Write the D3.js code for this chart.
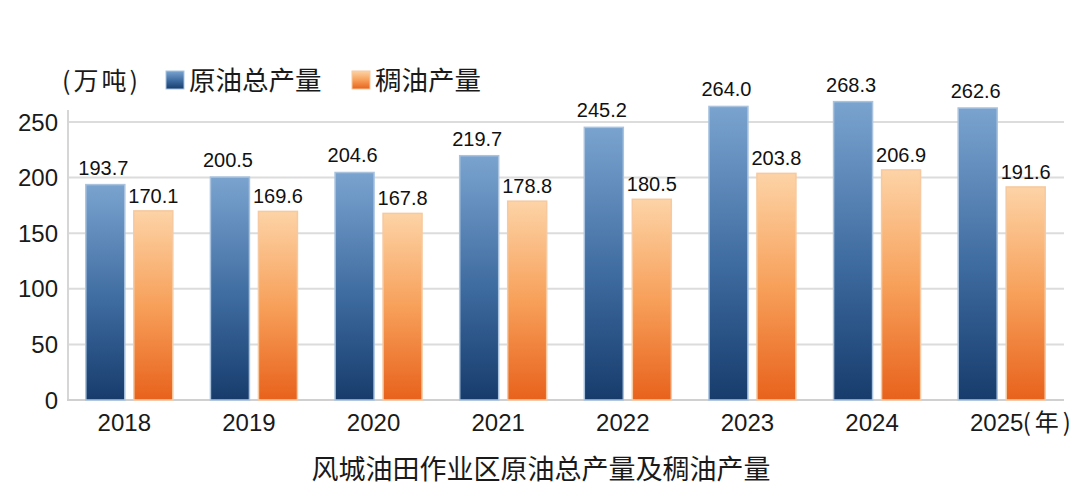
<!DOCTYPE html>
<html>
<head>
<meta charset="utf-8">
<script src="https://cdn.jsdelivr.net/npm/d3@7"></script>
<style>
  html, body { margin: 0; padding: 0; background: #fff; }
  svg { display: block; }
</style>
</head>
<body>
<div id="chart"></div>
<script>
// data
const years = ["2018", "2019", "2020", "2021", "2022", "2023", "2024", "2025"];
const totalOil = [193.7, 200.5, 204.6, 219.7, 245.2, 264.0, 268.3, 262.6];
const heavyOil = [170.1, 169.6, 167.8, 178.8, 180.5, 203.8, 206.9, 191.6];
const yTicks = [0, 50, 100, 150, 200, 250];
const seriesNames = ["原油总产量", "稠油产量"];

const W = 1080, H = 489;
const numFont = "'Liberation Sans', Arial, sans-serif";
const cjkFont = "'Noto Sans CJK SC', 'Noto Sans', sans-serif";

const svg = d3.select("#chart")
  .append("svg")
  .attr("width", W)
  .attr("height", H);

const defs = svg.append("defs");

let blueGrad = defs.append("linearGradient")
  .attr("id", "blueGrad")
  .attr("x1", 0).attr("y1", 0).attr("x2", 0).attr("y2", 1);
blueGrad.append("stop").attr("offset", "0%").attr("stop-color", "#7aa3cf");
blueGrad.append("stop").attr("offset", "55%").attr("stop-color", "#3d6a9f");
blueGrad.append("stop").attr("offset", "100%").attr("stop-color", "#173c6c");

let orangeGrad = defs.append("linearGradient")
  .attr("id", "orangeGrad")
  .attr("x1", 0).attr("y1", 0).attr("x2", 0).attr("y2", 1);
orangeGrad.append("stop").attr("offset", "0%").attr("stop-color", "#fdd3a6");
orangeGrad.append("stop").attr("offset", "50%").attr("stop-color", "#f7a05a");
orangeGrad.append("stop").attr("offset", "100%").attr("stop-color", "#e8621c");

const x0 = 67, x1 = 1064, yTop = 122, yBottom = 400;

let x = d3.scaleBand().domain(years).range([x0, x1]).paddingInner(0).paddingOuter(0);
let y = d3.scaleLinear().domain([0, 250]).range([yBottom, yTop]);

const barW = 39, gap = 9;

// grid lines
svg.selectAll("line.grid")
  .data(yTicks.filter(d => d > 0))
  .enter().append("line")
  .attr("class", "grid")
  .attr("x1", x0 + 2)
  .attr("x2", x1)
  .attr("y1", d => y(d))
  .attr("y2", d => y(d))
  .style("stroke", "#dcdcdc")
  .style("stroke-width", 2);

// axes lines
svg.append("line")
  .attr("x1", x0 + 1).attr("x2", x0 + 1)
  .attr("y1", y(250) - 12).attr("y2", yBottom)
  .style("stroke", "#d6d6d6").style("stroke-width", 2);
svg.append("line")
  .attr("x1", x0).attr("x2", x1)
  .attr("y1", yBottom).attr("y2", yBottom)
  .style("stroke", "#d0d0d0").style("stroke-width", 2);

// y tick labels
svg.selectAll("text.ytick")
  .data(yTicks)
  .enter().append("text")
  .attr("class", "ytick")
  .attr("x", 58)
  .attr("y", d => y(d))
  .attr("dy", "0.36em")
  .attr("text-anchor", "end")
  .style("font-family", numFont)
  .style("font-size", "24px")
  .style("fill", "#1a1a1a")
  .text(d => d);

const center = d => x(d) + x.bandwidth() / 2;

// blue bars
svg.selectAll("rect.total")
  .data(years)
  .enter().append("rect")
  .attr("class", "total")
  .attr("x", d => center(d) - gap / 2 - barW)
  .attr("width", barW)
  .attr("y", (d, i) => y(totalOil[i]))
  .attr("height", (d, i) => yBottom - y(totalOil[i]))
  .style("fill", "url(#blueGrad)")
  .style("stroke", "#a9c3df")
  .style("stroke-width", 1.5);

// orange bars
svg.selectAll("rect.heavy")
  .data(years)
  .enter().append("rect")
  .attr("class", "heavy")
  .attr("x", d => center(d) + gap / 2)
  .attr("width", barW)
  .attr("y", (d, i) => y(heavyOil[i]))
  .attr("height", (d, i) => yBottom - y(heavyOil[i]))
  .style("fill", "url(#orangeGrad)")
  .style("stroke", "#f6c9a0")
  .style("stroke-width", 1.5);

// value labels
svg.selectAll("text.totalLbl")
  .data(years)
  .enter().append("text")
  .attr("class", "totalLbl")
  .attr("x", d => center(d) - gap / 2 - barW / 2 - 2)
  .attr("y", (d, i) => y(totalOil[i]) - 10)
  .attr("text-anchor", "middle")
  .style("font-family", numFont)
  .style("font-size", "20px")
  .style("fill", "#111")
  .text((d, i) => totalOil[i].toFixed(1));

svg.selectAll("text.heavyLbl")
  .data(years)
  .enter().append("text")
  .attr("class", "heavyLbl")
  .attr("x", d => center(d) + gap / 2 + barW / 2)
  .attr("y", (d, i) => y(heavyOil[i]) - 8)
  .attr("text-anchor", "middle")
  .style("font-family", numFont)
  .style("font-size", "20px")
  .style("fill", "#111")
  .text((d, i) => heavyOil[i].toFixed(1));

// year labels
svg.selectAll("text.year")
  .data(years)
  .enter().append("text")
  .attr("class", "year")
  .attr("x", d => center(d) - 5)
  .attr("y", 431)
  .attr("text-anchor", "middle")
  .style("font-family", numFont)
  .style("font-size", "24px")
  .style("fill", "#1a1a1a")
  .text(d => d);

// unit for x axis
svg.append("text")
  .attr("x", center(years[years.length - 1]) + 21)
  .attr("y", 431)
  .style("font-family", cjkFont)
  .style("font-size", "24px")
  .style("letter-spacing", "4px")
  .style("fill", "#1a1a1a")
  .text("(年)");

// legend
svg.append("text")
  .attr("x", 62)
  .attr("y", 90)
  .style("font-family", cjkFont)
  .style("font-size", "25px")
  .style("letter-spacing", "3px")
  .style("fill", "#1a1a1a")
  .text("(万吨)");

const legendItems = [
  { name: seriesNames[0], fill: "url(#blueGrad)", stroke: "#a9c3df", x: 166 },
  { name: seriesNames[1], fill: "url(#orangeGrad)", stroke: "#f6c9a0", x: 352 }
];

let legend = svg.selectAll("g.legend")
  .data(legendItems)
  .enter().append("g")
  .attr("class", "legend")
  .attr("transform", d => "translate(" + d.x + ",0)");

legend.append("rect")
  .attr("x", 0).attr("y", 71)
  .attr("width", 18).attr("height", 18)
  .style("fill", d => d.fill)
  .style("stroke", d => d.stroke);

legend.append("text")
  .attr("x", 23)
  .attr("y", 90)
  .style("font-family", cjkFont)
  .style("font-size", "26.5px")
  .style("fill", "#1a1a1a")
  .text(d => d.name);

// title
svg.append("text")
  .attr("x", 541)
  .attr("y", 479)
  .attr("text-anchor", "middle")
  .style("font-family", cjkFont)
  .style("font-size", "27px")
  .style("fill", "#1a1a1a")
  .text("风城油田作业区原油总产量及稠油产量");
</script>
</body>
</html>
